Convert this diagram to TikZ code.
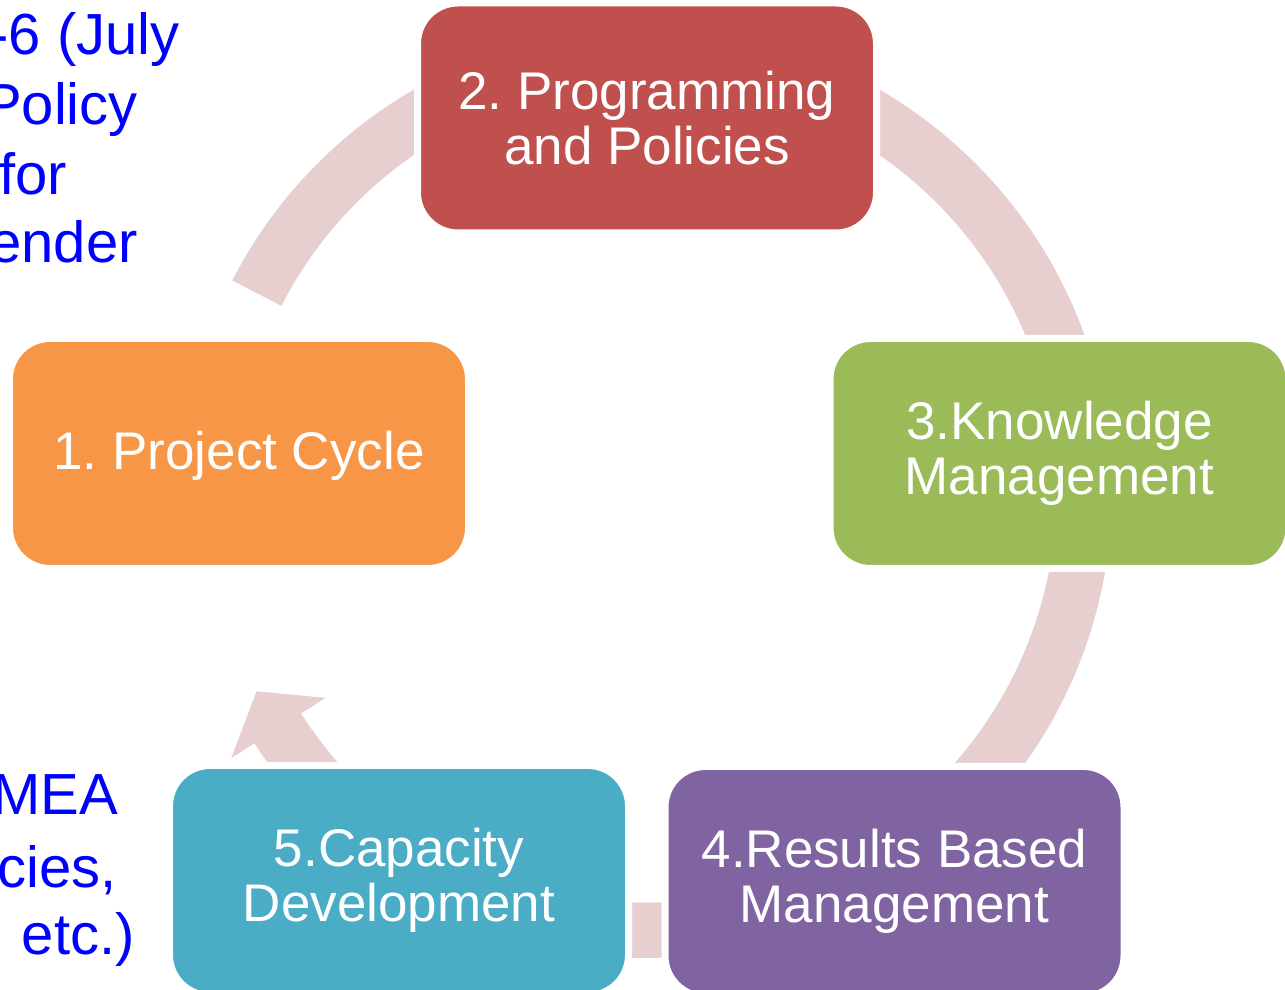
\documentclass[tikz,border=0pt]{standalone}
\usepackage{tikz}
\usepackage{xcolor}
\usepackage{fontspec}
\setmainfont{Liberation Sans}
\definecolor{ringpink}{RGB}{231,207,208}
\definecolor{pcorange}{RGB}{247,150,70}
\definecolor{ppred}{RGB}{192,80,77}
\definecolor{kmgreen}{RGB}{155,187,89}
\definecolor{rbmpurple}{RGB}{128,100,162}
\definecolor{cdteal}{RGB}{75,172,198}
\definecolor{noteblue}{RGB}{0,0,255}

\begin{document}
\begin{tikzpicture}[x=1pt,y=1pt,
    stage/.style={draw=white,line width=7pt,rounded corners=40.5pt,
      minimum width=459pt,minimum height=230pt,inner sep=0pt,
      text=white,align=center,font=\fontsize{53}{55}\selectfont\frenchspacing},
    ring/.style={draw=ringpink,line width=55.3pt},
    note/.style={anchor=base east,inner sep=0pt,text=noteblue,
      font=\fontsize{58}{70}\selectfont\frenchspacing}]
  \useasboundingbox (0,0) rectangle (1285,990);
  \clip (0,0) rectangle (1285,990);
  \coordinate (cyc) at (646.5,497.4);

  \draw[ring] ([shift={(cyc)}]152.9:437.7) arc[start angle=152.9,end angle=90,radius=437.7];
  \draw[ring] ([shift={(cyc)}]90:437.7) arc[start angle=90,end angle=0,radius=437.7];
  \draw[ring] ([shift={(cyc)}]0:437.7) arc[start angle=0,end angle=-60,radius=437.7];
  \draw[ring] ([shift={(cyc)}]-60:437.7) arc[start angle=-60,end angle=-120,radius=437.7];
  \draw[ring] ([shift={(cyc)}]-120:437.7) arc[start angle=-120,end angle=-147.6,radius=437.7];
  \fill[ringpink] ([shift={(cyc)}]-147.4:381) -- ([shift={(cyc)}]-153:437.7)
    -- ([shift={(cyc)}]-147.4:493) -- cycle;

  \node (pc) [stage,fill=pcorange,text height=44pt,text depth=11pt] at (239,536.5) {1. Project Cycle};
  \node (pp) [stage,fill=ppred] at (647,872) {2. Programming\\and Policies};
  \node (km) [stage,fill=kmgreen] at (1059.5,536.5) {3.Knowledge\\Management};
  \node (rbm) [stage,fill=rbmpurple] at (894.5,108.5) {4.Results Based\\Management};
  \node (cd) [stage,fill=cdteal] at (399,109.5) {5.Capacity\\Development};

  \node (ja) [note] at (180,935) {-6 (July};
  \node (jb) [note] at (138,865) {Policy};
  \node (jc) [note] at (67,795) {for};
  \node (jd) [note] at (138,727) {ender};
  \node (ma) [note] at (118,175) {MEA};
  \node (mb) [note] at (117,102) {cies,};
  \node (mc) [note] at (135,35) {, etc.)};
\end{tikzpicture}
\end{document}
